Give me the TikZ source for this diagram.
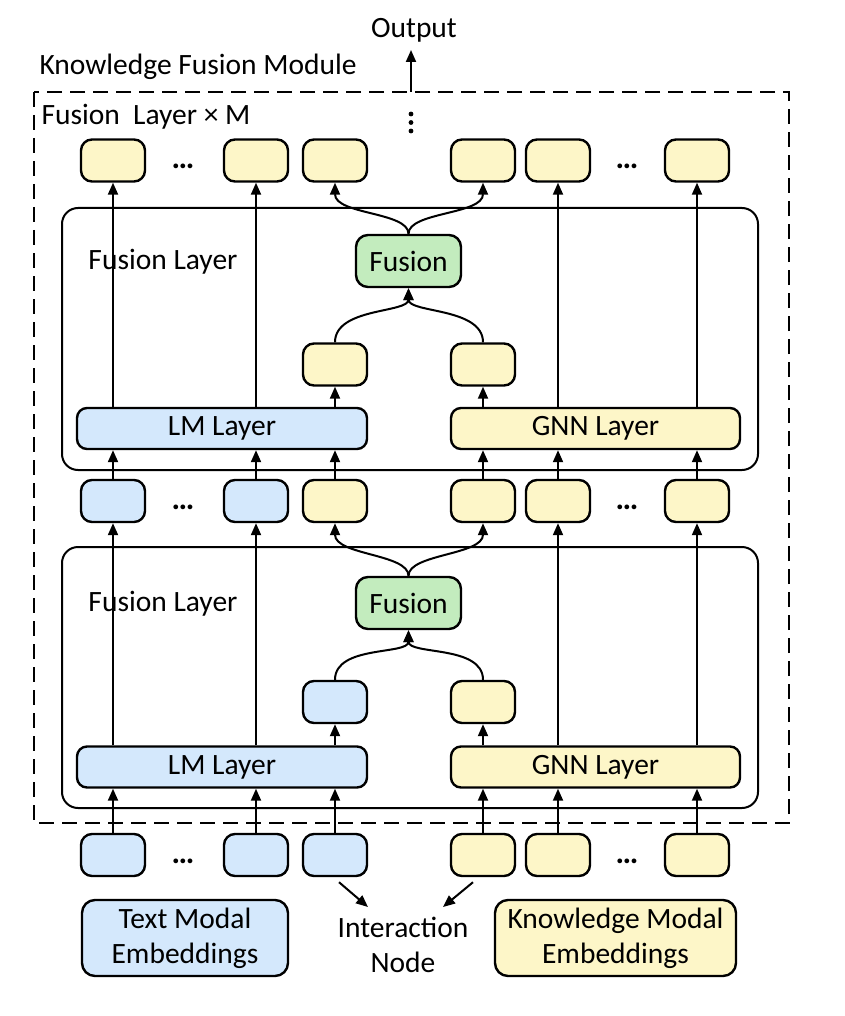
\documentclass[tikz,border=0pt]{standalone}
\usepackage{fontspec}
\setmainfont{Carlito}
\usetikzlibrary{arrows.meta}

\definecolor{tblue}{RGB}{212,232,252}
\definecolor{tyel}{RGB}{253,246,200}
\definecolor{tgreen}{RGB}{195,236,190}

\begin{document}
\begin{tikzpicture}[x=1pt,y=-1pt,
  font=\fontsize{29.5}{35}\selectfont,
  tok/.style={draw, line width=2.4pt, rounded corners=11pt, minimum width=64pt, minimum height=42pt, inner sep=0pt},
  btok/.style={tok, fill=tblue},
  ytok/.style={tok, fill=tyel},
  layerbar/.style={draw, line width=2.4pt, rounded corners=10pt, minimum height=41pt, inner sep=0pt},
  fusionbox/.style={draw, line width=2.4pt, rounded corners=12pt, fill=tgreen, minimum width=105pt, minimum height=52pt, inner sep=0pt},
  embbox/.style={draw, line width=2.4pt, rounded corners=13pt, minimum height=76pt, inner sep=0pt, align=center},
  frame/.style={line width=2pt, rounded corners=16pt},
  arr/.style={line width=2pt, -{Triangle[length=12pt,width=10pt]}},
  ell/.style={font=\fontsize{32}{36}\selectfont\bfseries, inner sep=0pt},
]
\useasboundingbox (0,0) rectangle (844,1016);

% outer module frame and its labels
\draw[line width=2.4pt, dash pattern=on 15pt off 8pt] (34,92) rectangle (789,823);
\node[anchor=west] (kfm) at (36,67) {Knowledge Fusion Module};
\node[anchor=west] (flm) at (38,117) {Fusion\ \ Layer × M};
\node (out) at (414,30) {Output};
\coordinate (outbase) at (411,92);
\coordinate (outtip) at (411,50);
\draw[arr] (outbase) -- (outtip);
\foreach \yy in {114,122.5,131} \fill (411,\yy) circle (2.4pt);

% fusion layer frames
\draw[frame] (62,208) rectangle (758,470);
\draw[frame] (62,547) rectangle (758,808);
\node (lab1) at (163,262) {Fusion Layer};
\node (lab2) at (163,604) {Fusion Layer};

% token rows
\foreach \i/\x in {1/113,2/256,3/335,4/483,5/558,6/697}
  \node[ytok] (t\i) at (\x,160.5) {};
\node[ell] (td1) at (183,166) {…};
\node[ell] (td2) at (627,166) {…};

\node[btok] (m1) at (113,501) {};
\node[btok] (m2) at (256,501) {};
\foreach \i/\x in {3/335,4/483,5/558,6/697}
  \node[ytok] (m\i) at (\x,501) {};
\node[ell] (md1) at (183,507) {…};
\node[ell] (md2) at (627,507) {…};

\foreach \i/\x in {1/113,2/256,3/335}
  \node[btok] (b\i) at (\x,855) {};
\foreach \i/\x in {4/483,5/558,6/697}
  \node[ytok] (b\i) at (\x,855) {};
\node[ell] (bd1) at (183,861) {…};
\node[ell] (bd2) at (627,861) {…};

% upper fusion layer
\node[layerbar, fill=tblue, minimum width=290pt] (lm1) at (222,428.5) {LM Layer};
\node[layerbar, fill=tyel, minimum width=289pt] (gnn1) at (595.5,428.5) {GNN Layer};
\node[ytok] (sb1) at (335,364.5) {};
\node[ytok] (sy1) at (483,364.5) {};
\node[fusionbox] (fus1) at (408.5,261) {Fusion};

% lower fusion layer
\node[layerbar, fill=tblue, minimum width=290pt] (lm2) at (222,767) {LM Layer};
\node[layerbar, fill=tyel, minimum width=289pt] (gnn2) at (595.5,767) {GNN Layer};
\node[btok] (sb2) at (335,702) {};
\node[ytok] (sy2) at (483,702) {};
\node[fusionbox] (fus2) at (408.5,603) {Fusion};

% embeddings and interaction node
\node[embbox, fill=tblue, minimum width=206pt] (temb) at (185,938) {Text Modal\\Embeddings};
\node[embbox, fill=tyel, minimum width=241pt] (kemb) at (615.5,938) {Knowledge Modal\\Embeddings};
\node[align=center] (inter) at (403,945) {Interaction\\Node};
\draw[arr] ([shift={(4,5)}]b3.south) -- ([shift={(-35,-38)}]inter.center);
\draw[arr] ([shift={(-10,5)}]b4.south) -- ([shift={(40,-38)}]inter.center);

% lower layer connectors
\foreach \i in {1,2,3} \draw[arr] (b\i.north) -- (b\i.north |- lm2.south);
\foreach \i in {4,5,6} \draw[arr] (b\i.north) -- (b\i.north |- gnn2.south);
\foreach \i in {1,2} \draw[arr] (m\i.south |- lm2.north) -- (m\i.south);
\foreach \i in {5,6} \draw[arr] (m\i.south |- gnn2.north) -- (m\i.south);
\draw[arr] (sb2.south |- lm2.north) -- (sb2.south);
\draw[arr] (sy2.south |- gnn2.north) -- (sy2.south);
\draw[arr] (sb2.north) .. controls +(0,-35) and +(0,25) .. (fus2.south);
\draw[arr] (sy2.north) .. controls +(0,-35) and +(0,25) .. (fus2.south);
\draw[arr] (fus2.north) .. controls +(0,-22) and +(0,32) .. (m3.south);
\draw[arr] (fus2.north) .. controls +(0,-22) and +(0,32) .. (m4.south);

% upper layer connectors
\foreach \i in {1,2,3} \draw[arr] (m\i.north) -- (m\i.north |- lm1.south);
\foreach \i in {4,5,6} \draw[arr] (m\i.north) -- (m\i.north |- gnn1.south);
\foreach \i in {1,2} \draw[arr] (t\i.south |- lm1.north) -- (t\i.south);
\foreach \i in {5,6} \draw[arr] (t\i.south |- gnn1.north) -- (t\i.south);
\draw[arr] (sb1.south |- lm1.north) -- (sb1.south);
\draw[arr] (sy1.south |- gnn1.north) -- (sy1.south);
\draw[arr] (sb1.north) .. controls +(0,-35) and +(0,25) .. (fus1.south);
\draw[arr] (sy1.north) .. controls +(0,-35) and +(0,25) .. (fus1.south);
\draw[arr] (fus1.north) .. controls +(0,-22) and +(0,32) .. (t3.south);
\draw[arr] (fus1.north) .. controls +(0,-22) and +(0,32) .. (t4.south);
\end{tikzpicture}
\end{document}
